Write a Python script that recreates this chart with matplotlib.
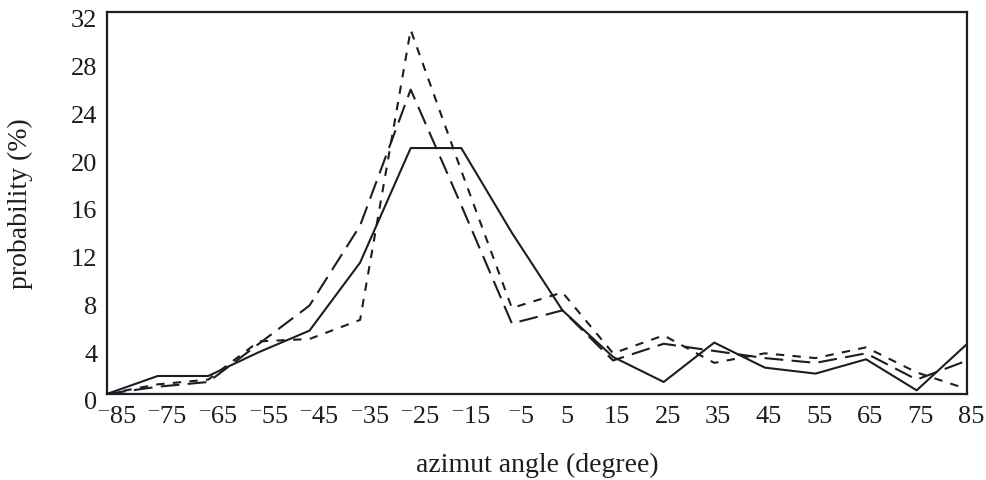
import matplotlib
matplotlib.use("Agg")
import matplotlib.pyplot as plt
from matplotlib.transforms import ScaledTranslation

angles = [-85, -75, -65, -55, -45, -35, -25, -15, -5, 5, 15, 25, 35, 45, 55, 65, 75, 85]
solid = [0, 1.5, 1.5, 3.5, 5.3, 11.0, 20.6, 20.6, 13.5, 7.0, 3.1, 1.0, 4.3, 2.2, 1.7, 2.9, 0.3, 4.2]
long_dash = [0, 0.6, 1.0, 4.2, 7.4, 14.1, 25.5, 15.8, 5.9, 7.0, 2.8, 4.2, 3.6, 3.0, 2.6, 3.4, 1.2, 2.8]
short_dash = [0, 0.8, 1.2, 4.4, 4.6, 6.2, 30.5, 18.7, 7.2, 8.5, 3.4, 4.9, 2.6, 3.4, 3.0, 3.9, 1.8, 0.4]
yticks = [0, 4, 8, 12, 16, 20, 24, 28, 32]
xticklabels = [('\u207b%d' % -a) if a < 0 else str(a) for a in angles]

plt.rcParams['font.family'] = ['Liberation Serif', 'DejaVu Serif']
fig = plt.figure(figsize=(9.87, 4.81), dpi=100)
ax = fig.add_axes([0.1085, 0.179, 0.8715, 0.794])
c = '#1c1c24'
ax.plot(angles, solid, color=c, lw=1.5, ls='-')
ax.plot(angles, long_dash, color=c, lw=1.5, dashes=(9, 4))
ax.plot(angles, short_dash, color=c, lw=1.5, dashes=(4, 4))
ax.set_xlim(-85, 85)
ax.set_ylim(0, 32)
ax.set_xticks(angles)
ax.set_xticklabels(xticklabels)
ax.set_yticks(yticks)
ax.tick_params(length=0, labelsize=19, colors=c)
ax.tick_params(axis='x', pad=8)
ax.tick_params(axis='y', pad=7)
for lab, a in zip(ax.get_xticklabels(), angles):
    off = ScaledTranslation((9 if a < 0 else 4) / 100, 0, fig.dpi_scale_trans)
    lab.set_transform(lab.get_transform() + off)
dy = ScaledTranslation(0, -6 / 100, fig.dpi_scale_trans)
for lab in ax.get_yticklabels():
    lab.set_transform(lab.get_transform() + dy)
for s in ax.spines.values():
    s.set_linewidth(1.6)
    s.set_color(c)
ax.set_xlabel('azimut angle (degree)', fontsize=20, labelpad=18, color=c)
ax.set_ylabel('probability (%)', fontsize=20, labelpad=27, color=c)
fig.savefig('out.png', dpi=100)
